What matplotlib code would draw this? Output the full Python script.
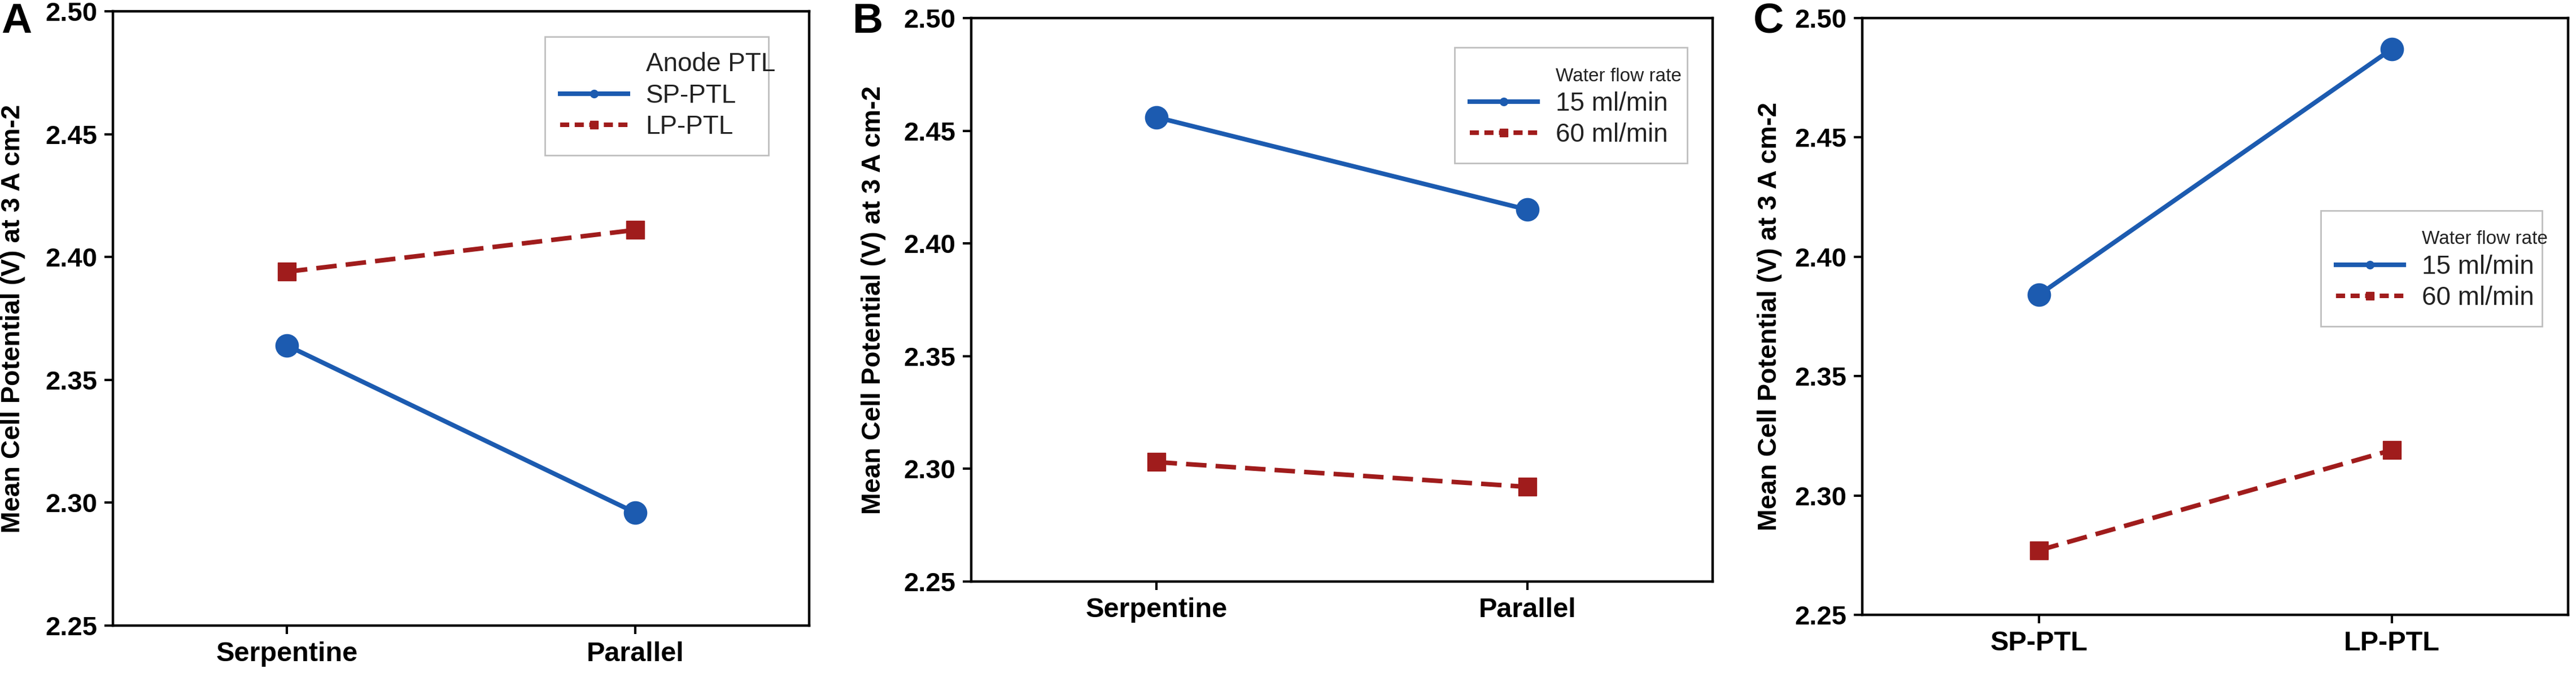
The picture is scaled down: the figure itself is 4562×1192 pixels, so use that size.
import numpy as np
import matplotlib
matplotlib.use("Agg")
import matplotlib.pyplot as plt
from matplotlib.lines import Line2D

plt.rcParams['font.family'] = ['Liberation Sans', 'DejaVu Sans']

# data
flow_fields = ['Serpentine', 'Parallel']
ptl_types = ['SP-PTL', 'LP-PTL']
flow_rates = ['15 ml/min', '60 ml/min']

a_sp = [2.364, 2.296]
a_lp = [2.394, 2.411]

b_15 = [2.456, 2.415]
b_60 = [2.303, 2.292]

c_15 = [2.384, 2.487]
c_60 = [2.277, 2.319]

y_ticks = [2.25, 2.30, 2.35, 2.40, 2.45, 2.50]
y_label = 'Mean Cell Potential (V) at 3 A cm-2'

blue = '#1c5bb0'
red = '#a01c1c'

W, H = 4562, 1192
fig = plt.figure(figsize=(W / 100, H / 100), dpi=100)


def px_axes(l, r, t, b):
    return fig.add_axes([l / W, (H - b) / H, (r - l) / W, (b - t) / H])


def draw_panel(ax, cats, s1, s2, lab1, lab2, title, title_size, leg_box, label_x):
    x = np.arange(len(cats))
    ax.plot(x, s1, color=blue, lw=5.8, marker='o', ms=29, solid_capstyle='butt')
    ax.plot(x, s2, color=red, lw=5.8, marker='s', ms=23, linestyle=(0, (4.5, 2)))
    ax.set_xlim(-0.5, 1.5)
    ax.set_ylim(2.25, 2.50)
    ax.set_xticks(x)
    ax.set_xticklabels(cats, fontsize=35, fontweight='bold')
    ax.set_yticks(y_ticks)
    ax.set_yticklabels(['%.2f' % v for v in y_ticks], fontsize=34, fontweight='bold')
    ax.tick_params(axis='both', length=11, width=3, pad=9, direction='out')
    for sp in ax.spines.values():
        sp.set_linewidth(3.2)
    ax.set_ylabel(y_label, fontsize=33.5, fontweight='bold')
    ax.yaxis.set_label_coords(label_x, 0.5)

    h0 = Line2D([], [], color='none')
    h1 = Line2D([], [], color=blue, lw=5.8, marker='o', ms=10)
    h2 = Line2D([], [], color=red, lw=5.8, marker='s', ms=10, linestyle=(0, (2, 1.2)))
    leg = ax.legend([h0, h1, h2], [title, lab1, lab2], loc='upper left',
                    bbox_to_anchor=leg_box, bbox_transform=fig.transFigure,
                    mode='expand', fontsize=33, frameon=True, fancybox=False,
                    edgecolor='#b0b0b0', handlelength=2.6, handletextpad=0.7,
                    labelspacing=0.25, borderpad=0.6)
    leg.get_frame().set_linewidth(2)
    texts = leg.get_texts()
    for t in texts:
        t.set_color('#222222')
    texts[0].set_fontsize(title_size)


def fig_box(l, r, t, b):
    return (l / W, (H - b) / H, (r - l) / W, (b - t) / H)


ax_a = px_axes(200, 1433, 20, 1108)
draw_panel(ax_a, flow_fields, a_sp, a_lp, ptl_types[0], ptl_types[1],
           'Anode PTL', 33, fig_box(942, 1384, 42, 266), -0.126)

ax_b = px_axes(1720, 3033, 32, 1030)
draw_panel(ax_b, flow_fields, b_15, b_60, flow_rates[0], flow_rates[1],
           'Water flow rate', 24, fig_box(2553, 3011, 61, 280), -0.115)

ax_c = px_axes(3298, 4548, 32, 1089)
draw_panel(ax_c, ptl_types, c_15, c_60, flow_rates[0], flow_rates[1],
           'Water flow rate', 24, fig_box(4087, 4525, 350, 559), -0.114)

for letter, xp in [('A', 2), ('B', 1510), ('C', 3105)]:
    fig.text(xp / W, 1 - 4 / H, letter, fontsize=54, fontweight='bold',
             ha='left', va='top')

fig.savefig('out.png', dpi=100)
